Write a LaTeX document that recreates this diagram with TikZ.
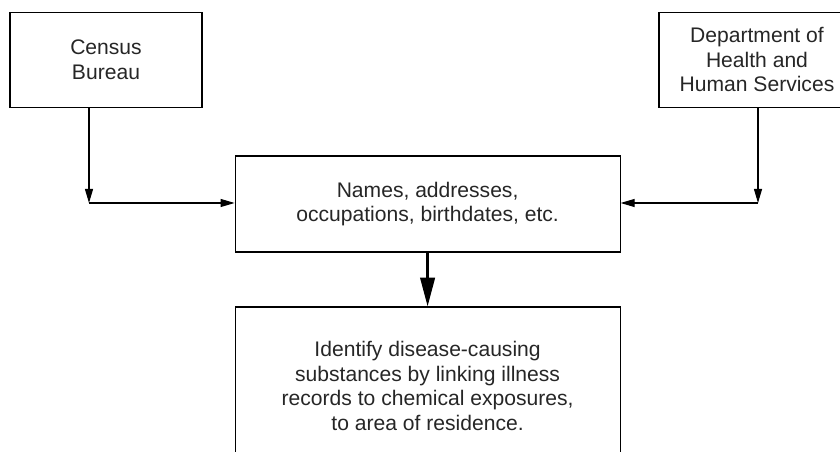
\documentclass[tikz,border=0pt]{standalone}
\usepackage{fontspec}
\setmainfont{Liberation Sans}
\usepackage{tikz}
\usetikzlibrary{arrows.meta,positioning}
\tikzset{
  box/.style={draw, rectangle, line width=0.75pt, align=center, inner sep=0pt,
              font=\fontsize{15}{17.5}\selectfont, text=black!85},
  feed/.style={line width=0.75pt, -{Triangle[length=3.5mm, width=2mm]}},
  main/.style={line width=2pt, -{Triangle[length=7.2mm, width=3.6mm]}},
}
\begin{document}
\begin{tikzpicture}
  \useasboundingbox (0,0) rectangle (21,-11.3);
  \clip (0,0) rectangle (21,-11.3);
  % sources
  \node[box, minimum width=4.8cm, minimum height=2.375cm] (census) at (2.65,-1.49)
    {Census\\ Bureau};
  \node[box, minimum width=4.9cm, minimum height=2.375cm] (hhs) at (18.925,-1.49)
    {Department of\\ Health and\\ Human Services};
  % data and use
  \node[box, minimum width=9.625cm, minimum height=2.4cm] (names) at (10.69,-5.1)
    {Names, addresses,\\ occupations, birthdates, etc.};
  \node[box, minimum width=9.625cm, minimum height=3.95cm] (use) at (10.69,-9.65)
    {Identify disease-causing\\ substances by linking illness\\
     records to chemical exposures,\\ to area of residence.};
  % bends
  \coordinate (cb) at (2.225,-5.075);
  \coordinate (hb) at (18.95,-5.075);
  % edges
  \draw[feed] (census.south -| cb) -- (cb);
  \draw[feed] (cb) -- (cb -| names.west);
  \draw[feed] (hhs.south -| hb) -- (hb);
  \draw[feed] (hb) -- (hb -| names.east);
  \draw[main] (names) -- (use);
\end{tikzpicture}
\end{document}
